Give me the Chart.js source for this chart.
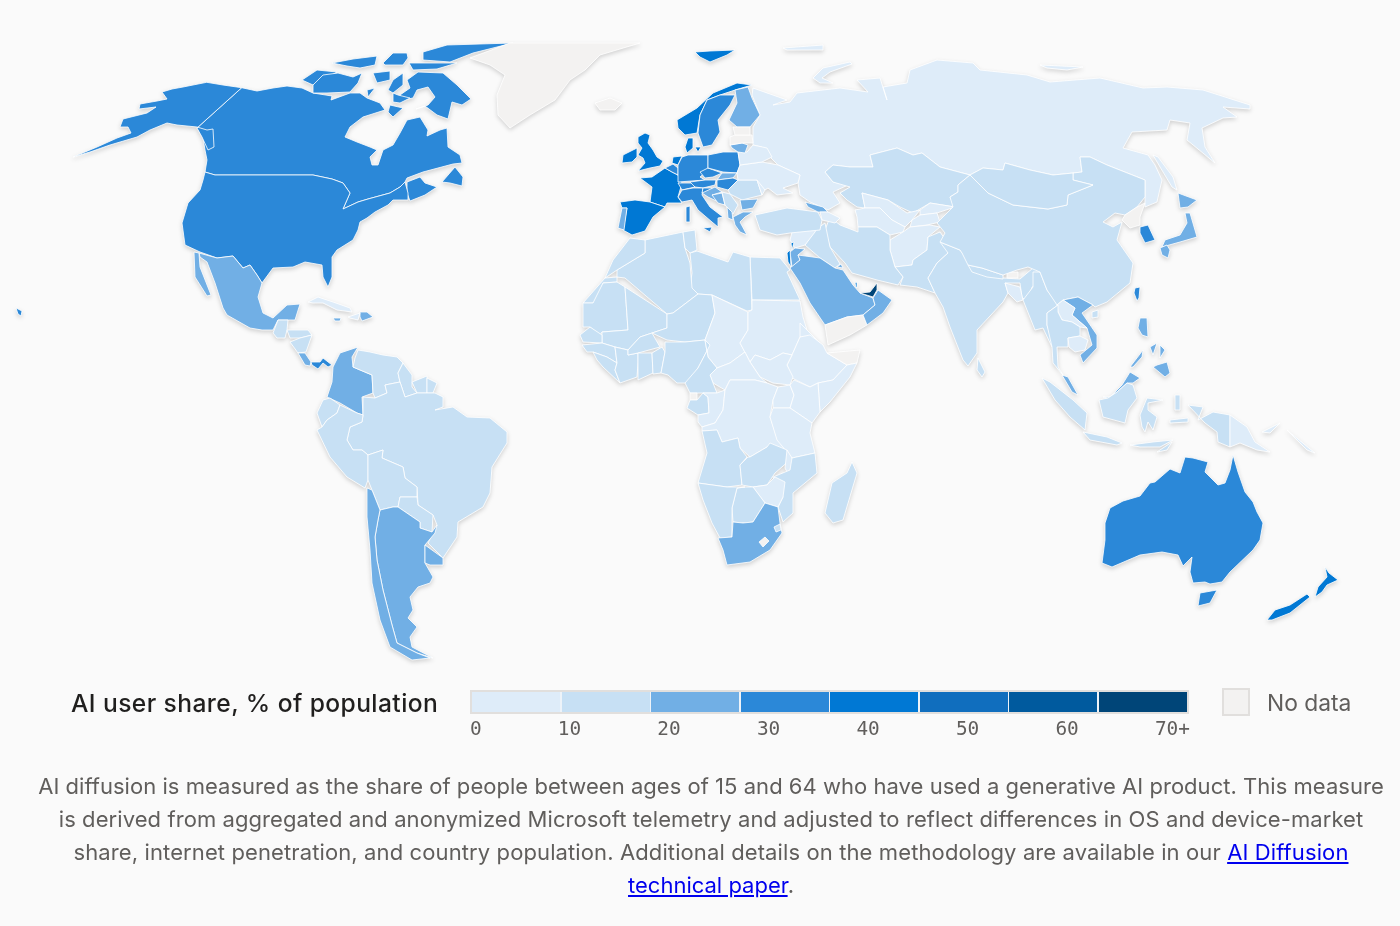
<!DOCTYPE html>
<html><head><meta charset="utf-8">
<script src="https://cdn.jsdelivr.net/npm/chart.js@4"></script>
<style>
html,body{margin:0;padding:0;background:#fafafa;width:1400px;height:926px;overflow:hidden;font-family:Inter,"Noto Sans",sans-serif}
#map{position:absolute;left:0;top:0;width:1400px;height:926px;filter:drop-shadow(0 2px 2px rgba(0,0,0,.16))}
.abs{position:absolute;white-space:nowrap}
#title{left:71px;top:686px;font-size:24.6px;line-height:34px;font-weight:500;letter-spacing:.42px;color:#201f1e}
#ramp{left:470px;top:690px;width:719px;height:24px;box-sizing:border-box;border:2px solid #e1dfdd;display:flex;gap:1.5px;background:#edf3f9}
#ramp div{flex:1}
#ticks{left:470px;top:717px;width:720px;display:flex;justify-content:space-between;font-family:"DejaVu Sans Mono",monospace;font-size:19.4px;line-height:24px;color:#605e5c}
#nd{left:1222px;top:688px;width:28px;height:28px;box-sizing:border-box;background:#f3f2f1;border:2px solid #e1dfdd}
#ndl{left:1267px;top:686px;font-size:22.8px;line-height:33px;color:#605e5c}
#note{left:0;top:770px;width:1422px;text-align:center;font-size:22px;line-height:33px;color:#605e5c}
#note a{color:#0000ee;text-decoration:underline}
</style></head><body>
<canvas id="map" width="1400" height="926"></canvas>
<div class="abs" id="title">AI user share, % of population</div>
<div class="abs" id="ramp"></div>
<div class="abs" id="ticks"></div>
<div class="abs" id="nd"></div>
<div class="abs" id="ndl">No data</div>
<div class="abs" id="note"><span style="letter-spacing:.03px">AI diffusion is measured as the share of people between ages of 15 and 64 who have used a generative AI product. This measure</span><br><span style="letter-spacing:.08px">is derived from aggregated and anonymized Microsoft telemetry and adjusted to reflect differences in OS and device-market</span><br><span style="letter-spacing:.11px">share, internet penetration, and country population. Additional details on the methodology are available in our <a href="#">AI Diffusion</a></span><br><a href="#">technical paper</a>.</div>
<script>
const tickLabels=["0","10","20","30","40","50","60","70+"];
const binColors=["#deecf9","#c7e0f4","#71afe5","#2b88d8","#0078d4","#106ebe","#005a9e","#004578"];
const noDataColor="#f3f2f1";
const countries=[
"Russia","Canada","USA","Alaska","Greenland","Iceland","Mexico","Baja California","Guatemala","Honduras","Nicaragua","Costa Rica","Panama","Cuba","Dominican Republic","Haiti","Jamaica",
"Colombia","Venezuela","Guyana","Suriname","French Guiana","Brazil","Ecuador","Peru","Bolivia","Paraguay","Argentina","Chile","Uruguay",
"Norway","Sweden","Finland","Denmark","United Kingdom","Ireland","France","Spain","Portugal","Netherlands","Belgium","Germany","Switzerland","Austria","Czechia","Poland","Slovakia","Hungary","Romania","Bulgaria","Italy","Slovenia","Croatia","Bosnia","Serbia","Albania","Greece","Moldova","Ukraine","Belarus","Lithuania","Latvia","Estonia",
"Kazakhstan","Uzbekistan","Turkmenistan","Kyrgyzstan","Tajikistan","Afghanistan","Pakistan","Iran","Iraq","Syria","Jordan","Israel","Lebanon","Turkey","Georgia","Caucasus","Saudi Arabia","Yemen","Oman","UAE","Qatar","Kuwait",
"Egypt","Libya","Algeria","Tunisia","Morocco","Western Sahara","Mauritania","Mali","Niger","Senegal","Guinea","Sierra Leone","Ivory Coast","Burkina Faso","Ghana","Benin","Nigeria","Chad","Sudan","Eritrea","Ethiopia","Somaliland","Somalia","South Sudan","Central African Rep.","Cameroon","Equatorial Guinea","Gabon","Congo","DR Congo","Uganda","Kenya","Tanzania","Angola","Zambia","Malawi","Mozambique","Zimbabwe","Botswana","Namibia","South Africa","Lesotho","Eswatini","Madagascar",
"India","Nepal","Bhutan","Bangladesh","Sri Lanka","Myanmar","China","Mongolia","North Korea","South Korea","Japan","Taiwan","Vietnam","Laos","Thailand","Cambodia","Malaysia","Indonesia","Papua New Guinea","Philippines","Australia","New Zealand"];
const shares=[
8,30,32,32,null,null,22,22,12,13,12,22,31,8,24,6,21,
23,14,15,13,14,16,16,15,15,14,24,26,25,
46,38,27,41,42,44,44,42,25,41,34,35,38,36,31,32,25,30,17,24,33,31,25,25,16,24,25,8,8,8,26,null,null,
15,7,6,8,5,3,14,14,12,8,24,42,40,17,24,8,25,null,27,70,41,24,
12,15,14,15,15,13,15,14,12,14,13,12,14,12,12,13,13,5,6,6,5,null,6,5,5,15,null,15,5,4,5,6,4,14,13,6,13,7,14,16,26,null,12,12,
14,12,null,8,14,13,16,14,null,36,25,33,24,8,14,8,26,15,7,25,36,42];
const outlines=[
"753,88 787,100 773,105 790,102 797,93 840,88 868,92 857,80 880,78 887,100 883,87 907,83 910,70 937,60 973,63 980,70 1027,75 1050,82 1100,78 1143,88 1167,87 1203,90 1250,105 1250,109 1223,107 1237,117 1223,118 1202,128 1205,147 1215,163 1187,140 1190,123 1170,120 1167,130 1132,132 1123,148 1148,155 1155,165 1162,180 1157,202 1145,207 1145,180 1107,165 1090,157 1080,157 1082,172 1073,173 1053,175 1030,170 1005,163 1003,170 983,168 970,175 940,167 922,153 913,155 897,148 870,155 873,167 850,167 833,165 825,172 833,182 848,185 833,192 840,203 828,210 810,202 800,195 798,183 800,175 778,165 770,157 762,147 753,145 753,127 760,115 752,95|813,78 823,68 850,62 852,64 830,72 822,78 833,83 820,83|1040,65 1083,67 1067,70 1047,68|783,48 823,45 823,50 787,50|1153,155 1158,157 1173,177 1177,190 1172,187 1160,167",
"241.7,87.7 257,91 273,88 287,86 302,88 313,93 332,96 331,100 350,93 360,93 367,98 380,103 385,110 363,117 350,127 345,137 357,142 370,147 377,150 370,157 372,165 378,165 383,150 393,145 400,133 407,120 420,117 428,130 427,136 440,130 447,128 448,147 460,155 462,163 453,164 423,172 407,178 405,182 400,187 390,193 368,199 358,202 343,209 350,193 343,183 332,179 313,175 215,175 205,172 207,160 205,150 203,138 197,128|442,182 455,167 463,177 462,186 450,183|407,193 407,182 420,177 425,183 437,187 425,195 410,201|407,80 418,72 443,73 457,85 471,99 462,105 452,102 448,119 437,115 425,106 416,109 428,105 435,97 428,87 417,90 413,98 403,100 400,95 410,88|302,80 317,70 337,72 323,80 313,85|313,85 323,75 338,73 353,77 362,73 358,83 350,92 327,93 313,93|373,73 390,71 390,80 377,83|393,80 403,73 403,85 393,93 388,90|367,90 375,88 368,97|393,102 393,93 398,95 410,98 400,103|390,105 403,108 393,117 388,112|423,52 447,45 513,43 473,53 450,62 423,60|409,63 457,63 437,69 413,70|332,63 353,59 377,56 375,65 360,68 347,66|383,63 393,53 407,53 408,58 403,65 385,65",
"215,175 313,175 332,179 343,183 350,193 343,209 358,202 368,199 390,193 400,187 405,182 408,193 408,200 393,200 388,205 375,212 367,218 360,222 358,230 353,240 337,250 332,257 332,277 328,287 323,277 322,265 305,262 293,267 273,268 262,283 257,275 250,265 243,268 233,256 217,258 200,252 185,245 182,223 188,203 200,190 203,180 205,172|16,308 22,311 21,316 18,314",
"241.7,87.7 223,85 206.7,82.3 193,85 183,87 172,89 162,92 167,99 157,101 140,104 139,109 156,107 147,113 135,116 123,119 120,127 128,127 131,133 117,138 97,147 73,157 90,152 110,145 137,137 150,130 167,123 177,125 197,127 207,130 213,129 214,147 208,150 202,137 197,128",
"470,58 510,43 640,43 600,55 585,70 570,80 555,100 530,115 510,128 498,115 497,95 505,75 490,65",
"595,103 610,98 622,103 615,110 600,110",
"199,253 217,258 233,256 243,268 250,265 257,275 262,283 258,297 263,313 273,318 287,305 300,304 295,320 283,320 278,320 273,330 262,330 250,328 227,315 223,308 215,283 207,262 200,257",
"194,252 199,253 200,267 211,295 207,296 195,277",
"273,333 278,320 288,320 287,330 285,338 277,338",
"287,330 308,330 312,335 300,338 290,338",
"300,338 312,335 306,352 298,353 290,342",
"298,353 305,353 311,362 310,366 305,365",
"311,362 320,362 323,358 332,365 328,367 323,363 318,369 312,365",
"308,302 318,297 333,302 350,308 352,312 337,310 323,303 313,303",
"360,312 367,312 373,317 362,321 360,317",
"348,317 360,313 358,320 350,318",
"333,318 341,318 340,321 335,321",
"358,347 352,357 353,367 372,375 373,393 362,397 363,415 357,413 340,403 327,397 332,382 333,367 340,353",
"358,350 355,358 353,367 372,375 373,393 375,398 387,393 385,385 400,382 398,373 403,363 397,357 383,355 370,352",
"403,363 412,375 412,387 417,393 405,397 400,382 398,373",
"412,382 427,376 427,393 417,393",
"427,378 437,383 433,393 427,393",
"363,397 375,398 387,393 385,385 400,382 405,397 417,393 435,393 443,397 443,407 435,410 453,407 467,417 490,418 507,432 507,443 492,467 490,493 483,507 458,522 457,537 443,558 428,543 437,525 433,515 418,505 417,487 405,478 403,467 382,458 383,450 368,455 362,450 353,450 347,440 350,427 362,422 363,415",
"317,413 323,400 330,398 340,405 337,413 327,420 322,427",
"327,420 337,413 340,405 357,413 363,415 362,422 350,427 347,440 353,450 362,450 368,455 368,480 365,488 347,477 330,457 317,430 322,427",
"368,455 383,450 382,458 403,467 405,478 417,487 417,497 400,497 398,507 393,507 380,510 372,490 368,480",
"400,497 417,497 418,505 433,515 432,532 420,528 420,522 398,507",
"380,510 393,507 398,507 420,522 420,528 432,532 437,525 435,533 425,545 425,563 433,577 430,583 418,587 410,597 413,610 408,618 417,627 410,637 412,647 433,658 417,653 397,643 392,625 383,590 377,560 375,537 378,520",
"367,488 372,490 380,510 378,520 375,537 377,560 383,590 392,625 397,643 417,653 430,658 412,660 390,647 380,620 372,583 370,550 367,517",
"425,545 443,558 443,565 430,565 425,563",
"677,120 697,108 713,93 737,83 752,85 735,90 720,95 707,100 700,115 697,133 685,135 678,128|695,52 710,51 735,50 727,55 710,62 700,57",
"707,100 720,95 735,95 730,105 718,120 720,132 712,145 703,147 698,133 700,115",
"735,90 748,87 752,98 760,115 750,127 737,127 729,120 737,103",
"688,138 693,138 693,148 687,153 685,147|695,147 701,147 698,152",
"638,137 645,133 650,135 648,143 653,150 657,157 663,161 660,166 650,168 638,171 645,163 643,158 638,155 642,148 638,143",
"623,155 637,148 637,157 632,162 622,163",
"640,178 652,177 665,168 672,172 678,175 682,183 678,197 682,203 667,203 665,207 650,202 652,187",
"620,202 635,200 650,202 665,207 653,217 645,231 632,235 623,230 627,208 622,208",
"622,208 627,208 624,230 618,228",
"673,157 682,156 678,165 672,163",
"665,168 673,164 678,168 678,175 672,172",
"688,155 708,155 708,170 700,177 705,180 678,182 678,175 678,165 682,157",
"678,183 693,183 695,187 682,190",
"690,182 705,180 716,180 715,185 703,188 695,187",
"700,172 708,168 722,173 713,177 705,178",
"708,155 723,152 738,152 740,165 737,173 723,172 708,168",
"722,173 737,173 733,178 717,180",
"717,180 733,178 738,180 728,190 717,187",
"738,180 757,180 762,195 742,200 730,194 728,190",
"740,200 758,199 753,208 742,210",
"693,188 703,188 702,195 710,207 723,217 718,218 718,227 712,222 698,210 692,200 682,202 678,197 682,190|703,228 712,227 710,232|686,207 690,206 690,222 686,222",
"703,188 712,188 710,193 702,193",
"702,193 715,187 722,192 712,195 725,205 708,197",
"712,195 722,193 725,205 718,203",
"722,192 730,194 738,205 733,214 725,205",
"727,207 732,212 733,220 728,218",
"733,217 743,212 753,212 745,217 740,222 747,235 740,232 735,225",
"757,180 763,183 765,190 762,195",
"740,165 762,162 778,165 800,175 798,183 783,188 793,193 777,195 768,188 765,190 757,180 738,180 737,173",
"747,152 753,145 767,148 772,157 762,162 740,165 738,152",
"730,145 742,143 748,145 745,153 738,152 732,148",
"730,137 735,135 752,135 753,143 742,143 730,145",
"733,127 750,127 750,135 735,135",
"825,172 833,165 850,167 873,167 870,155 897,148 913,155 922,153 940,167 970,175 958,185 958,192 950,197 955,207 930,203 913,213 900,207 888,200 862,193 865,208 857,207 847,200 840,193 850,187 833,182",
"862,193 888,200 907,213 920,210 912,220 905,227 892,220 880,208 865,208",
"855,210 865,208 880,208 892,220 905,227 903,232 890,235 877,227 858,227 857,217",
"920,210 930,203 955,207 937,213 920,215",
"912,220 920,215 937,213 940,222 927,225 910,227",
"890,240 903,232 910,227 930,225 940,227 928,237 927,250 913,260 912,265 895,267 890,250",
"895,267 912,265 913,260 927,250 928,237 940,232 947,242 948,253 937,263 928,278 935,293 917,287 900,285 903,277",
"830,217 840,225 858,232 858,227 877,227 890,235 890,250 895,267 903,277 898,285 877,280 870,278 852,273 845,263 830,247 825,230",
"815,230 825,223 830,247 840,264 835,268 820,258 805,245",
"792,232 817,228 815,232 805,245 795,248 790,240",
"795,248 805,249 798,255 800,260 792,267 790,252",
"787,253 790,250 791,267 788,262",
"791,243 794,242 792,250",
"755,215 787,208 818,212 822,220 820,230 790,233 777,235 760,230",
"805,202 823,207 828,212 818,212 808,207",
"820,212 828,212 840,218 835,223 822,220",
"790,268 800,260 798,255 820,258 835,268 843,270 853,285 860,293 873,298 875,305 863,315 847,317 825,325 810,303 800,283",
"825,325 847,317 863,315 867,325 850,335 828,345",
"863,315 875,305 873,298 878,290 892,300 883,313 867,325",
"860,293 870,292 877,283 877,290 873,297",
"855,283 857,282 857,288 856,287",
"837,267 841,264 843,268",
"750,257 780,258 790,270 787,272 800,300 752,300",
"690,253 697,251 728,262 733,252 750,257 752,310 747,311 712,295 698,294 690,288 692,273",
"645,240 683,232 685,248 690,263 692,288 698,294 673,313 667,314 625,278 617,277 617,270 645,253",
"683,232 695,230 697,250 690,253 685,248",
"645,240 645,253 617,270 605,278 613,260 630,238",
"605,278 617,277 617,282 603,283 598,298 593,303 583,303",
"583,303 593,303 603,283 617,282 625,287 628,330 602,332 600,335 590,327 583,327",
"625,287 667,314 667,328 652,333 640,337 628,350 615,347 602,343 602,332 628,330",
"667,314 673,313 698,294 712,295 715,313 705,340 685,342 667,340 652,333 667,328",
"580,335 590,327 602,335 602,343 583,342",
"582,345 602,343 615,347 617,363 607,357 593,352 587,352",
"593,352 607,357 617,363 615,370 620,383 603,367 597,360",
"615,347 628,350 628,355 638,353 638,363 637,377 620,383 615,370 617,363",
"628,350 640,337 652,333 660,347 638,353 628,355",
"638,353 652,353 653,373 638,380",
"652,353 662,347 665,352 661,373 653,374",
"665,342 685,342 705,340 710,345 698,368 688,383 677,383 668,375 661,373 665,352",
"712,295 748,312 748,330 740,343 745,352 730,363 717,368 708,357 705,340 715,313",
"752,300 800,301 803,317 807,330 800,337 792,355 783,353 770,360 755,355 750,362 740,343 748,330 748,312 752,310",
"800,323 807,330 820,343 803,337 800,337",
"800,337 810,335 823,345 827,353 847,365 833,380 818,383 810,387 792,378 787,365 792,355",
"827,353 860,350 857,363 847,365",
"847,365 857,363 850,377 830,402 820,412 818,383 833,380",
"750,362 755,355 770,360 783,353 792,355 787,365 793,377 790,385 773,383 760,377",
"717,368 730,363 745,352 750,362 760,377 767,383 755,380 730,380 725,390 713,383 710,375",
"705,340 708,357 717,368 710,375 713,383 717,393 690,393 685,383 698,368 710,345",
"690,393 697,393 697,400 690,400",
"690,400 697,400 703,393 708,397 709,413 698,415 687,408",
"703,393 717,393 725,390 723,410 715,423 702,427 698,422 698,415 709,413 708,397",
"725,390 730,380 755,380 767,383 778,387 773,400 770,417 777,438 787,450 773,465 767,462 767,447 750,457 740,448 738,438 722,442 717,430 702,431 702,427 715,423 723,410",
"778,387 790,385 794,395 790,408 773,408 773,400",
"794,380 810,387 818,383 820,412 812,423 790,408 794,395 790,385",
"773,408 790,408 812,423 810,433 815,453 792,458 777,440 770,417",
"702,431 717,430 722,442 738,438 740,448 747,457 740,465 742,485 727,487 698,483 707,453",
"740,465 748,457 750,457 767,447 770,443 787,450 790,460 775,473 767,485 753,487 742,485",
"787,450 792,458 797,477 792,482 785,468",
"792,458 815,453 817,473 793,493 793,513 783,522 778,507 783,497 773,477 790,470",
"753,487 767,485 775,477 785,482 783,497 778,507 765,503",
"737,488 745,487 753,487 765,503 753,522 743,523 733,522 732,508",
"698,483 727,487 745,487 737,488 732,508 732,537 720,538 712,523 703,500",
"733,522 743,523 753,522 765,503 778,507 780,523 782,533 770,550 750,562 727,565 723,550 718,538 732,537",
"759,542 765,537 769,541 763,547",
"774,527 780,524 781,530 776,532",
"852,462 857,473 843,520 833,523 825,513 832,483 847,473",
"940,242 960,250 970,263 1003,278 1020,279 1033,268 1045,272 1040,285 1032,287 1028,300 1022,298 1020,283 1005,283 1008,293 1003,302 977,330 977,353 968,366 963,360 950,327 943,307 935,293 928,278 937,263 948,253",
"968,265 982,268 1003,275 1003,279 987,277 972,272",
"1007,272 1018,272 1018,278 1007,278",
"1005,283 1020,287 1023,300 1017,302 1008,293",
"978,358 985,372 982,377 977,370",
"1033,272 1040,272 1047,290 1058,305 1047,313 1047,325 1055,350 1052,347 1043,328 1035,330 1023,300 1033,287",
"970,175 988,193 1013,205 1048,209 1067,205 1068,195 1093,185 1073,180 1073,173 1082,172 1080,157 1090,157 1107,165 1145,180 1145,197 1137,207 1125,215 1115,213 1103,222 1113,227 1122,222 1117,240 1133,263 1130,283 1107,302 1095,307 1093,305 1078,297 1063,300 1057,305 1047,290 1040,272 1028,267 1017,270 1003,275 982,268 968,265 962,253 960,250 940,242 945,233 937,223 953,207 950,197 958,192 958,185|1092,312 1098,310 1098,317 1092,318",
"970,175 983,168 1003,170 1005,163 1030,170 1053,175 1073,173 1073,180 1093,185 1068,195 1067,205 1048,209 1013,205 988,193",
"1122,220 1125,215 1137,207 1145,203 1140,217 1140,225 1130,228",
"1140,227 1148,225 1155,240 1145,243 1140,233",
"1185,213 1190,213 1197,237 1180,242 1162,247 1165,240 1180,235 1187,223|1178,193 1197,200 1188,207 1180,208|1160,248 1167,245 1170,250 1168,258 1162,255",
"1135,288 1140,287 1139,298 1137,301 1134,293",
"1063,300 1078,297 1093,305 1082,313 1097,335 1097,348 1083,363 1080,355 1092,345 1087,328 1072,315 1075,308",
"1057,305 1063,300 1075,308 1072,315 1087,328 1080,327 1072,322 1062,320 1058,312",
"1047,313 1058,305 1058,312 1062,320 1072,322 1080,327 1080,336 1068,338 1068,347 1057,347 1058,367 1063,375 1053,363 1052,347 1047,325",
"1068,338 1080,336 1088,340 1085,350 1075,352 1069,347",
"1062,375 1068,377 1078,395 1072,392|1103,397 1110,397 1122,385 1130,372 1140,378 1133,383 1127,383 1117,392 1108,398",
"1099,400 1108,398 1117,392 1127,383 1133,385 1137,398 1128,410 1125,423 1103,417|1042,378 1050,382 1073,400 1087,413 1085,430 1070,417 1055,400|1083,432 1107,437 1122,443 1117,445 1090,440|1130,445 1153,442 1173,440 1160,447 1140,447|1157,452 1172,442 1167,450|1140,415 1147,398 1163,400 1148,403 1148,410 1157,417 1153,430 1148,422 1145,432 1142,427|1188,405 1203,407 1198,420 1213,412 1230,415 1230,447 1218,442 1217,432 1205,423|1170,420 1188,418 1188,422 1170,423|1175,395 1180,395 1180,410 1175,410",
"1230,415 1247,427 1255,442 1270,452 1257,450 1240,443 1230,447|1262,432 1280,423 1270,433|1287,430 1315,453 1307,450",
"1140,318 1147,318 1148,337 1142,335 1138,328|1157,365 1167,362 1170,373 1165,377 1153,367|1150,347 1157,343 1153,355|1160,345 1165,350 1160,358|1130,367 1143,350 1142,357 1133,367",
"1102,563 1105,540 1105,523 1110,508 1123,501 1140,496 1150,483 1155,482 1170,469 1180,473 1185,457 1193,458 1208,462 1205,472 1218,485 1225,483 1230,470 1233,455 1238,472 1245,492 1253,502 1257,512 1263,523 1260,540 1253,550 1230,572 1222,582 1210,584 1205,582 1193,583 1190,572 1192,557 1183,566 1178,555 1162,552 1140,555 1112,567|1200,593 1217,590 1210,603 1198,606",
"1315,597 1318,587 1327,577 1325,567 1329,573 1338,580 1327,585 1322,592|1267,620 1275,610 1290,605 1307,594 1310,597 1290,613 1272,620"
];
function colorFor(v){return v===null?noDataColor:binColors[Math.min(7,Math.floor(v/10))];}
const datasets=[];
countries.forEach((name,i)=>{
  outlines[i].split("|").forEach(ring=>{
    const pts=ring.trim().split(/\s+/).map(p=>{const a=p.split(",");return {x:+a[0],y:+a[1]};});
    pts.push(pts[0]);
    datasets.unshift({label:name,data:pts,showLine:true,fill:'shape',backgroundColor:colorFor(shares[i]),borderColor:"#ffffff",borderWidth:0.8,borderDash:[100000,0],borderJoinStyle:'round',pointRadius:0,pointHitRadius:0,tension:0,clip:false});
  });
});
new Chart(document.getElementById("map"),{type:'scatter',data:{datasets},options:{
  responsive:false,animation:false,devicePixelRatio:1,events:[],layout:{padding:0},
  plugins:{legend:{display:false},tooltip:{enabled:false},filler:{propagate:false}},
  scales:{x:{type:'linear',min:0,max:1400,display:false},y:{type:'linear',min:0,max:926,reverse:true,display:false}}
}});
const ramp=document.getElementById("ramp");
binColors.forEach(c=>{const d=document.createElement("div");d.style.background=c;ramp.appendChild(d);});
const ticks=document.getElementById("ticks");
tickLabels.forEach(t=>{const s=document.createElement("span");s.textContent=t;ticks.appendChild(s);});
</script>
</body></html>
